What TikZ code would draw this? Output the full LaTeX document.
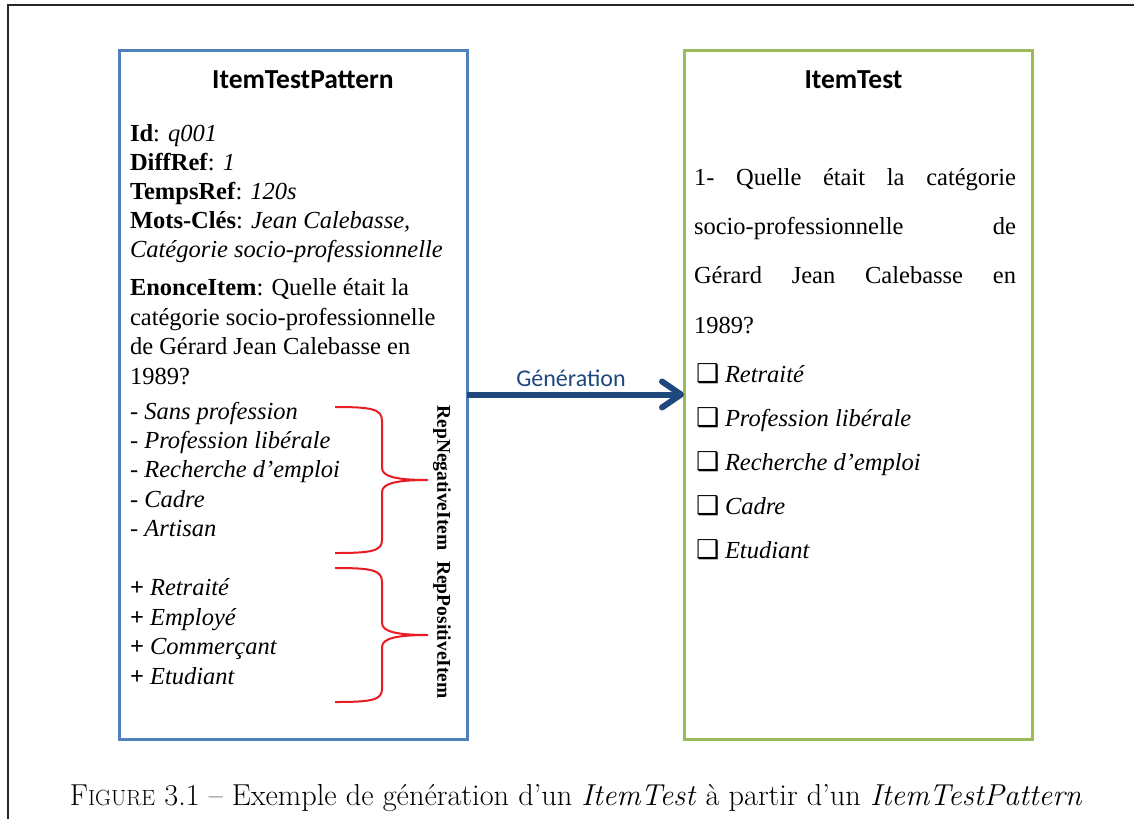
\documentclass[tikz,border=0pt]{standalone}
\usepackage{fontspec}
\setmainfont{Liberation Serif}
\newfontfamily\calfont{Carlito}
\newfontfamily\dvfont{DejaVu Sans}
\newfontfamily\lmfont{Latin Modern Roman}
\usetikzlibrary{arrows.meta}
\definecolor{boxblue}{RGB}{79,129,189}
\definecolor{boxgreen}{RGB}{155,187,89}
\definecolor{arrowcol}{RGB}{31,73,125}
\definecolor{bracered}{RGB}{232,28,36}
\definecolor{framecol}{RGB}{40,40,40}
\tikzset{
  every node/.style={inner sep=0pt, outer sep=0pt},
  panel/.style={draw=#1, line width=3pt, minimum width=348pt, minimum height=689pt, anchor=north west},
  paneltitle/.style={anchor=base, font=\calfont\bfseries\fontsize{27.5}{32}\selectfont},
  body/.style={anchor=base west, font=\fontsize{24.5}{29}\selectfont},
  boxline/.style={anchor=base west, font=\fontsize{24.5}{29}\selectfont},
  rotlabel/.style={rotate=-90, font=\bfseries\fontsize{19.5}{22}\selectfont},
  brace/.style={draw=bracered, line width=2pt},
  genarrow/.style={draw=arrowcol, line width=6pt, -{Straight Barb[length=19pt,width=26pt,round]}},
  genlabel/.style={anchor=base, text=arrowcol, font=\calfont\fontsize{24}{28}\selectfont},
  captionstyle/.style={anchor=base, font=\lmfont\fontsize{30.3}{35}\selectfont}
}
\newcommand{\cbox}{\makebox[29pt][l]{\dvfont\fontsize{26}{28}\selectfont ❑}}
\begin{document}
\begin{tikzpicture}[x=1pt,y=-1pt]
\useasboundingbox (0,0) rectangle (1134,819);
\fill[white] (0,0) rectangle (1134,819);
\draw[framecol, line width=1.8pt] (8,819) -- (8,5) -- (1134,5);

% panels
\node[panel=boxblue] (pattern) at (119,50) {};
\node[panel=boxgreen] (test) at (684,50) {};

\node[paneltitle] (ptitle) at (303,88) {ItemTestPattern};
\node[paneltitle] (ttitle) at (853.5,88) {ItemTest};

% left panel content
\node[body] (pid) at (130,141) {\textbf{Id}: \textit{q001}};
\node[body] (pdiff) at (130,170) {\textbf{DiffRef}: \textit{1}};
\node[body] (ptemps) at (130,199) {\textbf{TempsRef}: \textit{120s}};
\node[body] (pmots) at (130,228) {\textbf{Mots-Clés}: \textit{Jean Calebasse,}};
\node[body] (pcat) at (130,257) {\textit{Catégorie socio-professionnelle}};
\node[body] (pen1) at (130,295) {\textbf{EnonceItem}: Quelle était la};
\node[body] (pen2) at (130,325) {catégorie socio-professionnelle};
\node[body] (pen3) at (130,354) {de Gérard Jean Calebasse en};
\node[body] (pen4) at (130,384) {1989?};

\node[body] (neg1) at (130,419) {- \textit{Sans profession}};
\node[body] (neg2) at (130,448) {- \textit{Profession libérale}};
\node[body] (neg3) at (130,477) {- \textit{Recherche d’emploi}};
\node[body] (neg4) at (130,507) {- \textit{Cadre}};
\node[body] (neg5) at (130,536) {- \textit{Artisan}};

\node[body] (pos1) at (130,595) {\textbf{+} \textit{Retraité}};
\node[body] (pos2) at (130,625) {\textbf{+} \textit{Employé}};
\node[body] (pos3) at (130,654) {\textbf{+} \textit{Commerçant}};
\node[body] (pos4) at (130,684) {\textbf{+} \textit{Etudiant}};

% braces
\draw[brace] (335,407) .. controls (372,407) and (382,409) .. (382,421) -- (382,468)
  .. controls (382,477) and (398,480) .. (428,480)
  .. controls (398,480) and (382,483) .. (382,492) -- (382,540)
  .. controls (382,551) and (372,553) .. (335,553);
\draw[brace] (335,568) .. controls (372,568) and (382,570) .. (382,582) -- (382,623)
  .. controls (382,632) and (398,635) .. (428,635)
  .. controls (398,635) and (382,638) .. (382,647) -- (382,689)
  .. controls (382,700) and (372,702) .. (335,702);

\node[rotlabel] (neglbl) at (442,478) {RepNegativeItem};
\node[rotlabel] (poslbl) at (442,630) {RepPositiveItem};

% right panel content
\node[boxline] (q1) at (694,185) {\makebox[322pt][s]{1- Quelle était la catégorie}};
\node[boxline] (q2) at (694,234) {\makebox[322pt][s]{socio-professionnelle de}};
\node[boxline] (q3) at (694,283) {\makebox[322pt][s]{Gérard Jean Calebasse en}};
\node[boxline] (q4) at (694,333) {1989?};

\node[boxline] (c1) at (696,382) {\cbox\textit{Retraité}};
\node[boxline] (c2) at (696,426) {\cbox\textit{Profession libérale}};
\node[boxline] (c3) at (696,470) {\cbox\textit{Recherche d’emploi}};
\node[boxline] (c4) at (696,514) {\cbox\textit{Cadre}};
\node[boxline] (c5) at (696,558) {\cbox\textit{Etudiant}};

% generation arrow
\draw[genarrow] (pattern.east) -- (test.west);
\node[genlabel] (gen) at (571,386) {Génération};

% caption
\node[captionstyle] (caption) at (576,805) {F{\fontsize{22}{24}\selectfont IGURE} 3.1 – Exemple de génération d’un \textit{ItemTest} à partir d’un \textit{ItemTestPattern}};
\end{tikzpicture}
\end{document}
